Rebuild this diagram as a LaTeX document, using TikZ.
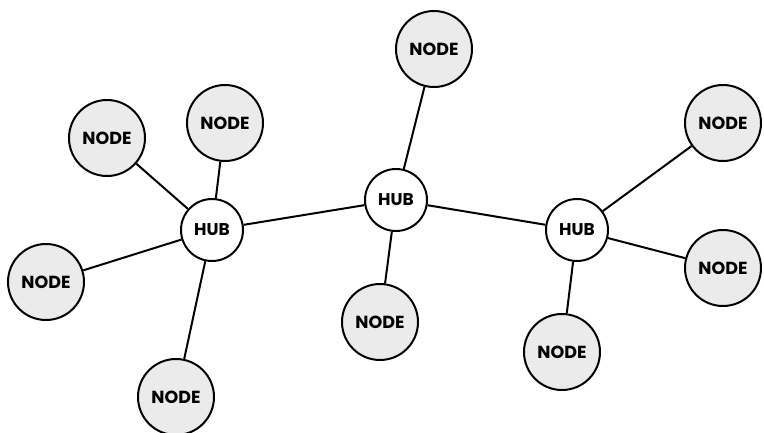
\documentclass[tikz,border=0pt]{standalone}
\usepackage{fontspec}
\setmainfont{Poppins}
\begin{document}
\begin{tikzpicture}[x=1pt,y=-1pt,
  hub/.style={circle,draw=black,line width=2pt,fill=white,minimum size=62pt,inner sep=0pt,font=\fontsize{17}{17}\selectfont\bfseries},
  leaf/.style={circle,draw=black,line width=2pt,fill=black!8,minimum size=76pt,inner sep=0pt,font=\fontsize{17.5}{17.5}\selectfont\bfseries},
  link/.style={line width=2pt}]
\useasboundingbox (0,0) rectangle (764,433);
\node[hub] (h1) at (212,230) {HUB};
\node[hub] (h2) at (396,200) {HUB};
\node[hub] (h3) at (577,230) {HUB};
\node[leaf] (n1) at (107,138) {NODE};
\node[leaf] (n2) at (225,123) {NODE};
\node[leaf] (n3) at (46,282) {NODE};
\node[leaf] (n4) at (176,397) {NODE};
\node[leaf] (n5) at (434,49) {NODE};
\node[leaf] (n6) at (380,322) {NODE};
\node[leaf] (n7) at (723,123) {NODE};
\node[leaf] (n8) at (723,268) {NODE};
\node[leaf] (n9) at (562,352) {NODE};
\draw[link] (h1) -- (h2);
\draw[link] (h2) -- (h3);
\draw[link] (h1) -- (n1);
\draw[link] (h1) -- (n2);
\draw[link] (h1) -- (n3);
\draw[link] (h1) -- (n4);
\draw[link] (h2) -- (n5);
\draw[link] (h2) -- (n6);
\draw[link] (h3) -- (n7);
\draw[link] (h3) -- (n8);
\draw[link] (h3) -- (n9);
\end{tikzpicture}
\end{document}
